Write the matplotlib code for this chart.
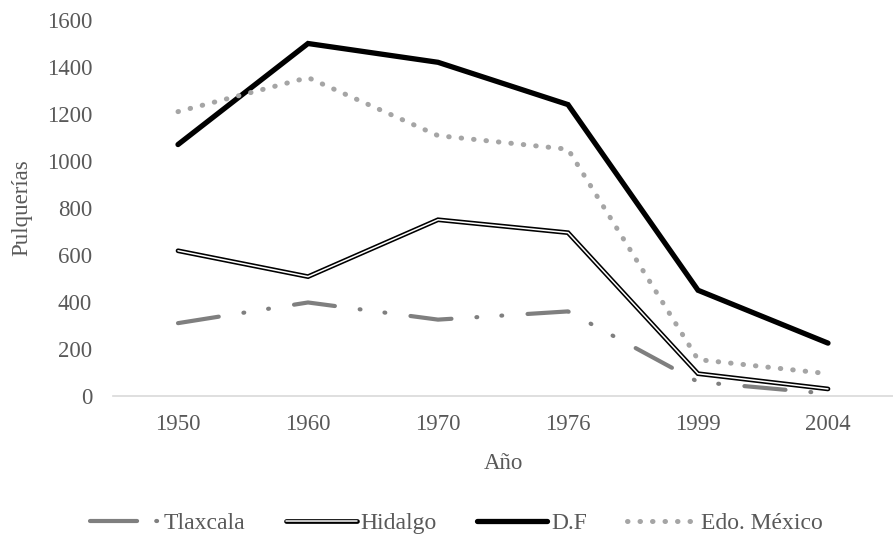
import matplotlib
matplotlib.use("Agg")
from matplotlib import pyplot as plt
from matplotlib.lines import Line2D

# Data
years = ["1950", "1960", "1970", "1976", "1999", "2004"]
tlaxcala = [310, 398, 325, 360, 60, 10]
hidalgo = [618, 508, 750, 695, 95, 30]
df = [1070, 1500, 1420, 1240, 450, 225]
edo_mexico = [1210, 1355, 1108, 1050, 155, 95]

plt.rcParams['font.family'] = ['Liberation Serif', 'DejaVu Serif']
text_color = "#595959"

fig = plt.figure(figsize=(8.93, 5.42), dpi=100)
ax = fig.add_axes([113 / 893, 1 - 396 / 542, 1 - 113 / 893, 376 / 542])

x = list(range(len(years)))

# Tlaxcala: long dash - dot - dot
tl, = ax.plot(x, tlaxcala, color="#7f7f7f", linewidth=3.0,
              linestyle=(0, (9.9, 6.0, 0.2, 5.8, 0.2, 6.1)),
              dash_capstyle="round", solid_capstyle="round")

# Hidalgo: double line (black outer, white inner)
hi_out, = ax.plot(x, hidalgo, color="black", linewidth=3.4,
                  solid_joinstyle="miter", solid_capstyle="round")
hi_in, = ax.plot(x, hidalgo, color="white", linewidth=1.1,
                 solid_joinstyle="miter", solid_capstyle="round")

# D.F: thick black
dfl, = ax.plot(x, df, color="black", linewidth=3.8,
               solid_joinstyle="miter", solid_capstyle="round")

# Edo. México: round dots
em, = ax.plot(x, edo_mexico, color="#a5a5a5", linewidth=3.6,
              linestyle=(0, (0.1, 2.4)), dash_capstyle="round")

ax.set_xlim(-0.5, len(years) - 0.5)
ax.set_ylim(0, 1600)
ax.set_yticks(range(0, 1601, 200))
ax.set_xticks(x)
ax.set_xticklabels(years)

for side in ["top", "right", "left"]:
    ax.spines[side].set_visible(False)
ax.spines["bottom"].set_color("#d9d9d9")
ax.spines["bottom"].set_linewidth(1.2)
ax.tick_params(axis="both", length=0, labelsize=16.5, colors=text_color)
ax.tick_params(axis="y", pad=15)
ax.tick_params(axis="x", pad=13)

ax.set_xlabel("Año", fontsize=16.5, color=text_color, labelpad=13)
ax.set_ylabel("Pulquerías", fontsize=16.5, color=text_color)
ax.yaxis.set_label_coords(-0.103, 0.5)

# legend proxy for Tlaxcala: one dash and one dot, like the reference key
tl_key = Line2D([], [], color="#7f7f7f", linewidth=3.0,
                linestyle=(0, (11.3, 4.6, 0.2, 30)),
                dash_capstyle="round", solid_capstyle="round")

leg = fig.legend([tl_key, (hi_out, hi_in), dfl, em],
                 ["Tlaxcala", "Hidalgo", "D.F", "Edo. México"],
                 loc="center", bbox_to_anchor=(0.5 + 0.011, 1 - 523 / 542),
                 ncol=4, frameon=False, fontsize=17, handlelength=3.0,
                 handletextpad=0.15, columnspacing=1.7)
for t in leg.get_texts():
    t.set_color(text_color)

plt.savefig("out.png", dpi=100)
plt.close()
